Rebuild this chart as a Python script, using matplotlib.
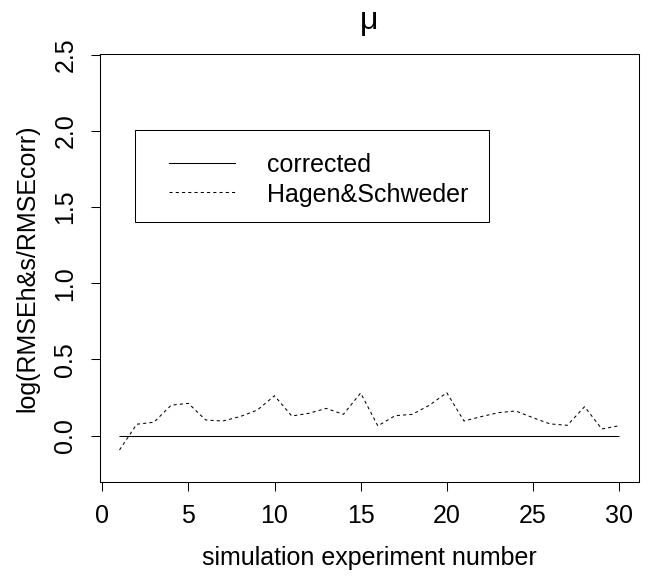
import matplotlib
matplotlib.use("Agg")
import matplotlib.pyplot as plt
from matplotlib.patches import Rectangle
from matplotlib.lines import Line2D

experiments = list(range(1, 31))
corrected = [0.0] * 30
hagen_schweder = [-0.094, 0.075, 0.088, 0.20, 0.212, 0.103, 0.096, 0.125, 0.168, 0.262,
                  0.129, 0.147, 0.179, 0.14, 0.28, 0.064, 0.131, 0.14, 0.20, 0.282,
                  0.096, 0.125, 0.151, 0.162, 0.118, 0.077, 0.068, 0.19, 0.044, 0.065]
series_names = ["corrected", "Hagen&Schweder"]
xticks = [0, 5, 10, 15, 20, 25, 30]
yticks = [0.0, 0.5, 1.0, 1.5, 2.0, 2.5]
ytick_labels = ["0.0", "0.5", "1.0", "1.5", "2.0", "2.5"]

plt.rcParams['font.family'] = ['Liberation Sans', 'DejaVu Sans']

W, H = 656, 579
fig = plt.figure(figsize=(W / 100, H / 100), dpi=100)
left, right, top, bottom = 99.5, 639.0, 54, 482
ax = fig.add_axes([left / W, 1 - bottom / H, (right - left) / W, (bottom - top) / H])

def fx(x):
    return x / W

def fy(y):
    return 1 - y / H

lw = 0.75
dash = (3, 3)
ax.plot(experiments, corrected, color='black', lw=lw, solid_capstyle='butt')
ax.plot(experiments, hagen_schweder, color='black', lw=lw, dashes=dash)

ax.set_xlim(-0.16, 31.16)
ax.set_ylim(-0.304, 2.504)
ax.set_xticks(xticks)
ax.set_yticks(yticks)
ax.set_yticklabels(ytick_labels, rotation=90, va='center')
ax.tick_params(axis='both', labelsize=18, length=6.5, width=lw, direction='out', pad=9.5, colors='black')
for s in ax.spines.values():
    s.set_linewidth(lw)

ax.set_xlabel("simulation experiment number", fontsize=18)
ax.xaxis.set_label_coords(0.5, -(558 - bottom) / (bottom - top))
ax.xaxis.label.set_va('center')
ax.set_ylabel("log(RMSEh&s/RMSEcorr)", fontsize=18)
ax.yaxis.set_label_coords(-(left - 27) / (right - left), 0.5)
ax.yaxis.label.set_va('center')
ax.set_title("μ", fontsize=23, pad=18)

# legend box drawn like R's legend()
lx0, lx1, ly0, ly1 = 135, 489, 130, 222
fig.add_artist(Rectangle((fx(lx0), fy(ly1)), fx(lx1) - fx(lx0), fy(ly0) - fy(ly1),
                         transform=fig.transFigure, fill=False, edgecolor='black', lw=lw))
rows = [163, 192]
styles = [dict(), dict(dashes=dash)]
for name, ry, st in zip(series_names, rows, styles):
    fig.add_artist(Line2D([fx(169), fx(235)], [fy(ry), fy(ry)], transform=fig.transFigure,
                          color='black', lw=lw, **st))
    fig.text(fx(267), fy(ry), name, fontsize=18, va='center_baseline', ha='left')

fig.savefig("out.png", dpi=100)
